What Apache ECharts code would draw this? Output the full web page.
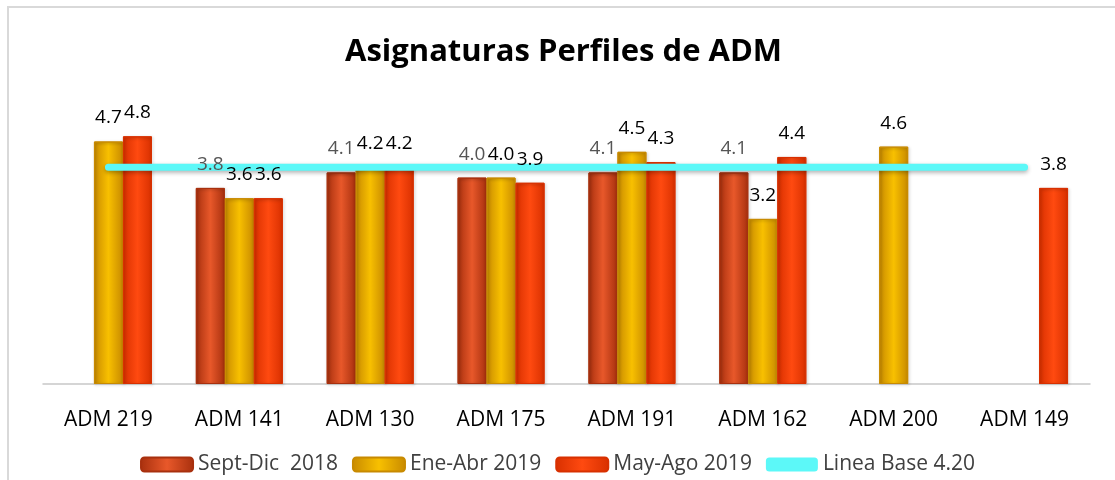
<!DOCTYPE html>
<html>
<head>
<meta charset="utf-8">
<script src="https://cdn.jsdelivr.net/npm/echarts@6/dist/echarts.min.js"></script>
<style>
  html, body { margin: 0; padding: 0; background: #fff; }
  #chart { width: 1115px; height: 480px; }
</style>
</head>
<body>
<div id="chart"></div>
<script>
const categories = ['ADM 219', 'ADM 141', 'ADM 130', 'ADM 175', 'ADM 191', 'ADM 162', 'ADM 200', 'ADM 149']
const septDic2018 = [null, 3.8, 4.1, 4.0, 4.1, 4.1, null, null]
const eneAbr2019 = [4.7, 3.6, 4.2, 4.0, 4.5, 3.2, 4.6, null]
const mayAgo2019 = [4.8, 3.6, 4.2, 3.9, 4.3, 4.4, null, 3.8]
const lineaBase = [4.2, 4.2, 4.2, 4.2, 4.2, 4.2, 4.2, 4.2]

const font = '"Open Sans", "Noto Sans", sans-serif'

const cylinder = (edge, mid) => new echarts.graphic.LinearGradient(0, 0, 1, 0, [
  { offset: 0, color: edge },
  { offset: 0.5, color: mid },
  { offset: 1, color: edge }
])

// real bars, under the base line
const barSeries = (name, data, edge, mid) => ({
  name: name,
  type: 'bar',
  data: data,
  barWidth: 29,
  barGap: '0%',
  z: 2,
  itemStyle: {
    color: cylinder(edge, mid),
    borderColor: edge,
    borderWidth: 1,
    shadowColor: 'rgba(0,0,0,0.25)',
    shadowBlur: 3,
    shadowOffsetX: 1,
    shadowOffsetY: 1
  }
})

// transparent copies on a twin axis, so the value labels sit above the line
const labelSeries = (name, data, labelColor) => ({
  name: name,
  type: 'bar',
  data: data,
  xAxisIndex: 1,
  barWidth: 29,
  barGap: '0%',
  z: 10,
  silent: true,
  itemStyle: { color: 'rgba(0,0,0,0)' },
  label: {
    show: true,
    position: 'top',
    distance: 14,
    fontFamily: font,
    fontSize: 19,
    color: labelColor,
    formatter: p => p.value == null ? '' : Number(p.value).toFixed(1)
  }
})

const chart = echarts.init(document.getElementById('chart'))

const option = {
  backgroundColor: '#fff',
  title: {
    text: 'Asignaturas Perfiles de ADM',
    left: 340,
    top: 32,
    textStyle: { fontFamily: font, fontSize: 31, fontWeight: 'bold', color: '#000' }
  },
  legend: {
    bottom: 0,
    left: 'center',
    itemWidth: 52,
    itemHeight: 14,
    itemGap: 14,
    textStyle: { fontFamily: font, fontSize: 21, color: '#404040' },
    data: [
      { name: 'Sept-Dic  2018' },
      { name: 'Ene-Abr 2019' },
      { name: 'May-Ago 2019' },
      { name: 'Linea Base 4.20', icon: 'roundRect' }
    ]
  },
  graphic: [{
    type: 'rect',
    shape: { x: 8, y: 7, width: 1200, height: 600 },
    style: { fill: 'none', stroke: '#d9d9d9', lineWidth: 2 },
    z: 100
  }],
  grid: { left: 43, right: 25, top: 126, bottom: 96 },
  xAxis: [
    {
      type: 'category',
      data: categories,
      axisLine: { lineStyle: { color: '#c8c8c8', width: 1.5 } },
      axisTick: { show: false },
      axisLabel: { fontFamily: font, fontSize: 21, color: '#000', margin: 26 }
    },
    {
      type: 'category',
      data: categories,
      position: 'bottom',
      show: false
    }
  ],
  yAxis: {
    type: 'value',
    min: 0,
    max: 5,
    show: false,
    splitLine: { show: false }
  },
  series: [
    barSeries('Sept-Dic  2018', septDic2018, '#a8300e', '#e8582a'),
    barSeries('Ene-Abr 2019', eneAbr2019, '#c88a00', '#f8c000'),
    barSeries('May-Ago 2019', mayAgo2019, '#d83000', '#ff4a10'),
    {
      name: 'Linea Base 4.20',
      type: 'line',
      data: lineaBase,
      symbol: 'none',
      z: 5,
      itemStyle: { color: '#5cf8f8' },
      lineStyle: {
        color: '#5cf8f8',
        width: 7,
        cap: 'round',
        shadowColor: 'rgba(0,0,0,0.3)',
        shadowBlur: 4,
        shadowOffsetY: 2
      }
    },
    labelSeries('Sept-Dic  2018', septDic2018, '#555'),
    labelSeries('Ene-Abr 2019', eneAbr2019, '#000'),
    labelSeries('May-Ago 2019', mayAgo2019, '#000')
  ]
}

chart.setOption(option)
</script>
</body>
</html>
